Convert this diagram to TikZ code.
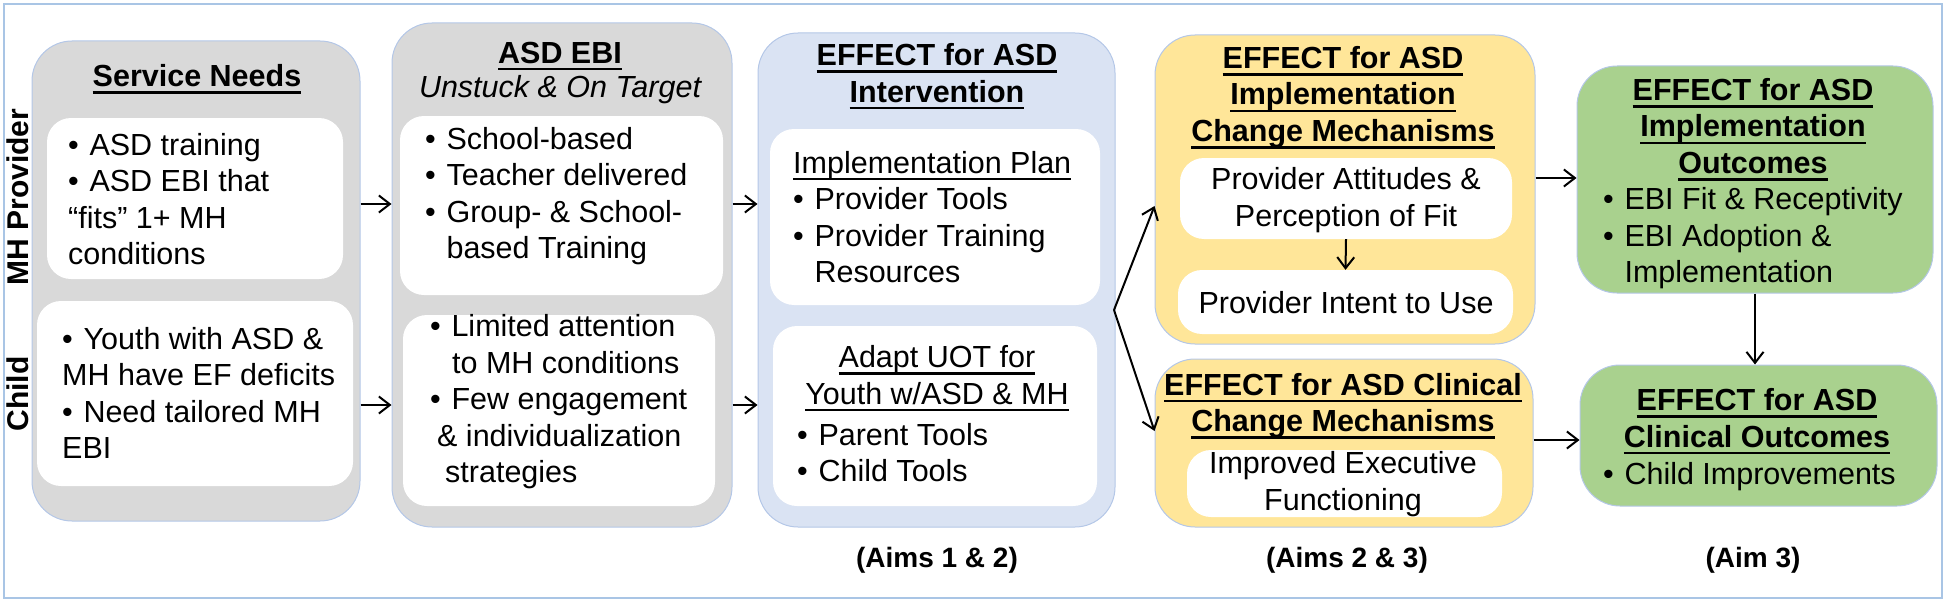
\documentclass[tikz,border=0pt]{standalone}
\usepackage{fontspec}
\setmainfont{Liberation Sans}
\usetikzlibrary{arrows.meta,fit}
\definecolor{framec}{HTML}{A9C5E5}
\definecolor{edgec}{HTML}{B4C7E7}
\definecolor{grayf}{HTML}{D9D9D9}
\definecolor{bluef}{HTML}{DAE3F3}
\definecolor{yellowf}{HTML}{FFE699}
\definecolor{greenf}{HTML}{A9D18E}
\newcommand{\bu}{\makebox[0.7em][l]{•}}
\newcommand{\ind}{\hspace*{0.7em}}
\newcommand{\uln}[1]{\setbox0\hbox{#1}\rlap{\rule[-7.2pt]{\wd0}{2.5pt}}\box0}
\begin{document}
\begin{tikzpicture}[x=1pt,y=-1pt,
  bigbox/.style={draw=edgec, line width=1pt, rounded corners=40pt, inner sep=0pt},
  wbox/.style={fill=white, rounded corners=24pt, inner sep=0pt},
  txt/.style={font=\fontsize{30.5}{36.5}\selectfont, inner sep=0pt, align=center},
  txtl/.style={txt, align=left, anchor=west},
  hd/.style={font=\fontsize{30.5}{36.5}\selectfont\bfseries, inner sep=0pt, align=center},
  aim/.style={font=\fontsize{28}{33}\selectfont\bfseries, inner sep=0pt},
  side/.style={font=\fontsize{30}{34}\selectfont\bfseries, inner sep=0pt, rotate=90},
  arr/.style={-{Straight Barb[length=11pt,width=17pt]}, line width=2pt}]
\path[use as bounding box] (0,0) rectangle (1946,602);
\draw[framec, line width=1.5pt] (4,4) rectangle (1942,598);

% big boxes
\node[bigbox, fill=grayf, fit={(32,41) (360,521)}] (b1) {};
\node[bigbox, fill=grayf, fit={(392,23) (732,527)}] (b2) {};
\node[bigbox, fill=bluef, fit={(758,33) (1115,527)}] (b3) {};
\node[bigbox, fill=yellowf, fit={(1155,35) (1535,344)}] (b4) {};
\node[bigbox, fill=yellowf, fit={(1155,359) (1533,527)}] (b5) {};
\node[bigbox, fill=greenf, fit={(1577,66) (1933,293)}] (b6) {};
\node[bigbox, fill=greenf, fit={(1580,365) (1937,506)}] (b7) {};

% white boxes
\node[wbox, fit={(47,118) (343,279)}] (w1a) {};
\node[wbox, fit={(37,301) (353,486)}] (w1b) {};
\node[wbox, fit={(400,116) (723,295)}] (w2a) {};
\node[wbox, fit={(403,315) (715,506)}] (w2b) {};
\node[wbox, fit={(770,129) (1100,305)}] (w3a) {};
\node[wbox, fit={(773,326) (1097,506)}] (w3b) {};
\node[wbox, fit={(1180,158) (1512,239)}] (w4a) {};
\node[wbox, fit={(1178,270) (1513,334)}] (w4b) {};
\node[wbox, fit={(1187,450) (1502,517)}] (w5a) {};

% side labels
\node[side] (lp) at (18,197) {MH Provider};
\node[side] (lc) at (18,394) {Child};

% column 1
\node[hd] (h1) at (197,79) {\uln{Service Needs}};
\node[txtl] (t1a) at (68,199) {\bu ASD training\\\bu ASD EBI that\\“fits” 1+ MH\\conditions};
\node[txtl] (t1b) at (62,393) {\bu Youth with ASD \&\\MH have EF deficits\\\bu Need tailored MH\\EBI};

% column 2
\node[hd] (h2) at (560,56) {\uln{ASD EBI}};
\node[txt, font=\fontsize{30.5}{36.5}\selectfont\itshape] (h2b) at (560,90) {Unstuck \& On Target};
\node[txtl] (t2a) at (425,196) {\bu School-based\\\bu Teacher delivered\\\bu Group- \& School-\\\ind based Training};
\node[txtl] (t2b) at (430,402) {\bu Limited attention\\\hspace*{22pt}to MH conditions\\\bu Few engagement\\\hspace*{7pt}\& individualization\\\hspace*{15pt}strategies};

% column 3
\node[hd] (h3) at (937,76.5) {\uln{EFFECT for ASD}\\\uln{Intervention}};
\node[txtl] (t3a) at (793,217) {\uln{Implementation Plan}\\\bu Provider Tools\\\bu Provider Training\\\ind Resources};
\node[txt] (t3b) at (937,378.5) {\uln{Adapt UOT for}\\\uln{Youth w/ASD \& MH}};
\node[txtl] (t3c) at (797,452.5) {\bu Parent Tools\\\bu Child Tools};
\node[aim] (a12) at (937,560) {(Aims 1 \& 2)};

% column 4
\node[hd] (h4) at (1343,97.5) {\uln{EFFECT for ASD}\\\uln{Implementation}\\\uln{Change Mechanisms}};
\node[txt] (t4a) at (1346,200) {Provider Attitudes \&\\Perception of Fit};
\node[txt] (t4b) at (1346,303) {Provider Intent to Use};
\node[hd] (h5) at (1343,406) {\uln{EFFECT for ASD Clinical}\\\uln{Change Mechanisms}};
\node[txt] (t5a) at (1343,484) {Improved Executive\\Functioning};
\node[aim] (a23) at (1347,560) {(Aims 2 \& 3)};

% column 5
\node[hd] (h6) at (1753,129.5) {\uln{EFFECT for ASD}\\\uln{Implementation}\\\uln{Outcomes}};
\node[txtl] (t6) at (1603,238.5) {\bu EBI Fit \& Receptivity\\\bu EBI Adoption \&\\\ind Implementation};
\node[hd] (h7) at (1757,421.5) {\uln{EFFECT for ASD}\\\uln{Clinical Outcomes}};
\node[txtl] (t7) at (1603,477) {\bu Child Improvements};
\node[aim] (a3) at (1753,560) {(Aim 3)};

% connectors
\coordinate (r1) at (0,204);
\coordinate (r2) at (0,405);
\coordinate (br) at (1114,310);
\coordinate (u4) at (0,206);
\coordinate (u5) at (0,431);
\coordinate (r4) at (0,178);
\coordinate (r5) at (0,440);
\draw[arr] (b1.east |- r1) -- (b2.west |- r1);
\draw[arr] (b1.east |- r2) -- (b2.west |- r2);
\draw[arr] (b2.east |- r1) -- (b3.west |- r1);
\draw[arr] (b2.east |- r2) -- (b3.west |- r2);
\draw[arr] (br) -- (b4.west |- u4);
\draw[arr] (br) -- (b5.west |- u5);
\draw[arr] (w4a.south) -- (w4b.north);
\draw[arr] (b4.east |- r4) -- (b6.west |- r4);
\draw[arr] (b5.east |- r5) -- (b7.west |- r5);
\draw[arr] (b6.south) -- (b6.south |- b7.north);
\end{tikzpicture}
\end{document}
